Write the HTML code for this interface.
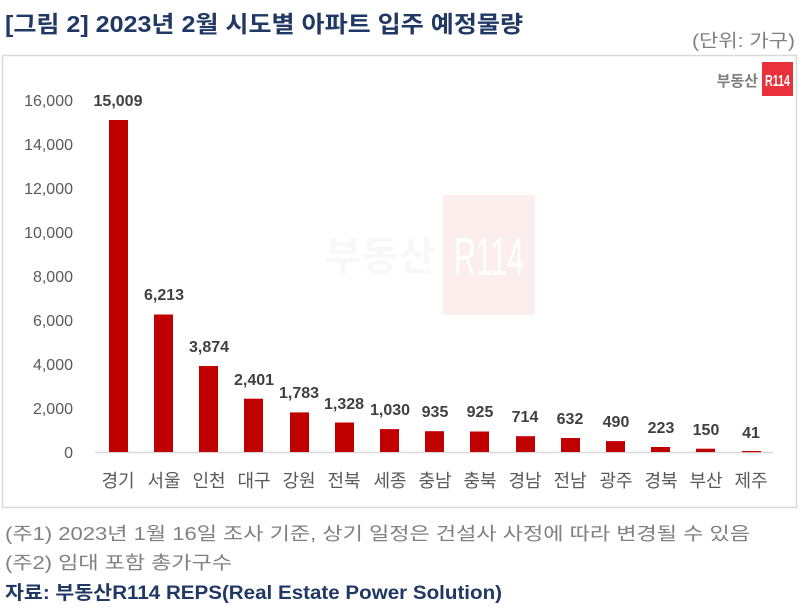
<!DOCTYPE html>
<html><head><meta charset="utf-8"><style>
body{margin:0;width:800px;height:608px;background:#fff;overflow:hidden;font-family:"Liberation Sans","Noto Sans CJK KR",sans-serif}
</style></head><body>
<svg width="800" height="608" xmlns="http://www.w3.org/2000/svg" font-family="Liberation Sans, Noto Sans CJK KR, sans-serif">
<text x="5" y="32" font-size="23" font-weight="bold" fill="#1f3864" textLength="518" lengthAdjust="spacingAndGlyphs">[그림 2] 2023년 2월 시도별 아파트 입주 예정물량</text>
<text x="692" y="47" font-size="18" fill="#808080" textLength="103" lengthAdjust="spacingAndGlyphs">(단위: 가구)</text>
<rect x="2.5" y="55.5" width="794" height="452" fill="#fff" stroke="#d9d9d9" stroke-width="1.5"/>
<rect x="443" y="195" width="92" height="120" fill="#fdeeee"/>
<text x="380" y="270" font-size="40" font-weight="bold" fill="#f8f8f8" text-anchor="middle">부동산</text>
<text x="489" y="275" font-size="54" fill="#fff" text-anchor="middle" textLength="70" lengthAdjust="spacingAndGlyphs">R114</text>
<text x="758" y="86" font-size="15" font-weight="bold" fill="#7f7f7f" text-anchor="end">부동산</text>
<rect x="762" y="62" width="31" height="34" fill="#e8313a"/>
<text x="765" y="86" font-size="16" font-weight="bold" fill="#fff" textLength="25" lengthAdjust="spacingAndGlyphs">R114</text>
<g font-size="16" fill="#595959" text-anchor="end">
<text x="73" y="106">16,000</text><text x="73" y="150">14,000</text><text x="73" y="194">12,000</text><text x="73" y="238">10,000</text><text x="73" y="282">8,000</text><text x="73" y="326">6,000</text><text x="73" y="370">4,000</text><text x="73" y="414">2,000</text><text x="73" y="458">0</text>
</g>
<line x1="95" y1="452.5" x2="773" y2="452.5" stroke="#d9d9d9" stroke-width="1.5"/>
<g fill="#c00000">
<rect x="109" y="120" width="19" height="332"/>
<rect x="154" y="314.5" width="19" height="137.5"/>
<rect x="199" y="366" width="19" height="86"/>
<rect x="244" y="398.7" width="19" height="53.3"/>
<rect x="290" y="412.4" width="19" height="39.6"/>
<rect x="335" y="422.5" width="19" height="29.5"/>
<rect x="380" y="429.1" width="19" height="22.9"/>
<rect x="425" y="431.2" width="19" height="20.8"/>
<rect x="470" y="431.5" width="19" height="20.5"/>
<rect x="516" y="436.2" width="19" height="15.8"/>
<rect x="561" y="438" width="19" height="14"/>
<rect x="606" y="441.1" width="19" height="10.9"/>
<rect x="651" y="447" width="19" height="5"/>
<rect x="696" y="448.7" width="19" height="3.3"/>
<rect x="742" y="451" width="19" height="1.2"/>
</g>
<g font-size="16" font-weight="bold" fill="#404040" text-anchor="middle">
<text x="118" y="106">15,009</text><text x="164" y="300">6,213</text><text x="209" y="352">3,874</text><text x="254" y="385">2,401</text><text x="299" y="398">1,783</text><text x="344" y="409">1,328</text><text x="390" y="415">1,030</text><text x="435" y="417">935</text><text x="480" y="417">925</text><text x="525" y="422">714</text><text x="570" y="424">632</text><text x="616" y="427">490</text><text x="661" y="433">223</text><text x="706" y="435">150</text><text x="751" y="438">41</text>
</g>
<g font-size="18" fill="#595959" text-anchor="middle">
<text x="118" y="487">경기</text><text x="164" y="487">서울</text><text x="209" y="487">인천</text><text x="254" y="487">대구</text><text x="299" y="487">강원</text><text x="344" y="487">전북</text><text x="390" y="487">세종</text><text x="435" y="487">충남</text><text x="480" y="487">충북</text><text x="525" y="487">경남</text><text x="570" y="487">전남</text><text x="616" y="487">광주</text><text x="661" y="487">경북</text><text x="706" y="487">부산</text><text x="751" y="487">제주</text>
</g>
<text x="5" y="540" font-size="18" fill="#808080" textLength="745" lengthAdjust="spacingAndGlyphs">(주1) 2023년 1월 16일 조사 기준, 상기 일정은 건설사 사정에 따라 변경될 수 있음</text>
<text x="5" y="569" font-size="18" fill="#808080" textLength="227" lengthAdjust="spacingAndGlyphs">(주2) 임대 포함 총가구수</text>
<text x="5" y="599" font-size="19" font-weight="bold" fill="#1f3864" textLength="497" lengthAdjust="spacingAndGlyphs">자료: 부동산R114 REPS(Real Estate Power Solution)</text>
</svg>
</body></html>
